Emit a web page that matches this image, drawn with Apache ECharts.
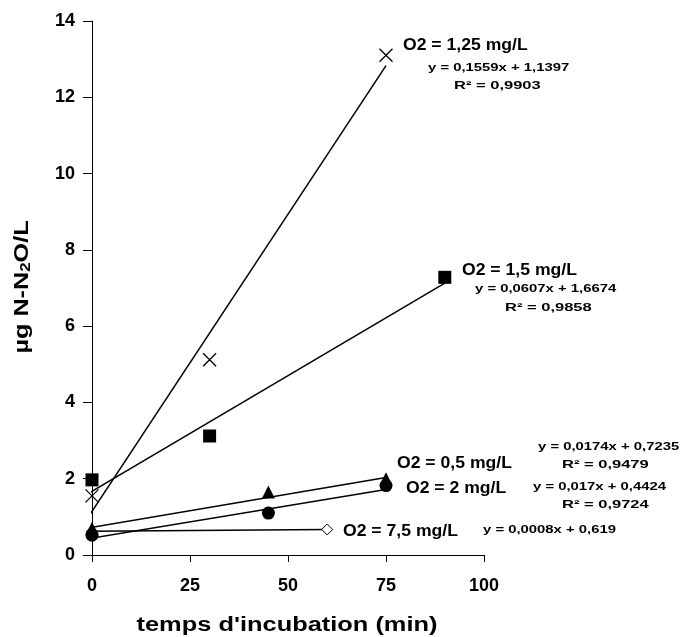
<!DOCTYPE html>
<html>
<head>
<meta charset="utf-8">
<script src="https://cdn.jsdelivr.net/npm/echarts@6/dist/echarts.min.js"></script>
<style>
  html, body { margin: 0; padding: 0; background: #fff; }
  #main { width: 681px; height: 637px; }
</style>
</head>
<body>
<div id="main"></div>
<script>
// mesures (temps en min, N-N2O en µg/L)
var pts125 = [[0, 1.55], [30, 5.12], [75, 13.1]];
var pts15 = [[0, 1.97], [30, 3.12], [90, 7.28]];
var pts05 = [[0, 0.7], [45, 1.65], [75, 2.0]];
var pts2 = [[0, 0.52], [45, 1.1], [75, 1.82]];
var pts75 = [[0, 0.62], [60, 0.67]];

// droites de tendance (extrémités)
var fit125 = [[-1.5, 0.91], [75, 12.83]];
var fit15 = [[-1.5, 1.58], [90, 7.13]];
var fit05 = [[-1.5, 0.70], [75, 2.03]];
var fit2 = [[-1.5, 0.42], [75, 1.72]];
var fit75 = [[-1.5, 0.62], [60, 0.67]];

var xTicks = [0, 25, 50, 75, 100];
var yTicks = [0, 2, 4, 6, 8, 10, 12, 14];

var font = 'Liberation Sans, Arial, Helvetica, sans-serif';
var crossPath = 'path://M0,0 L10,10 M10,0 L0,10';

function fitSeries(data) {
  return {
    type: 'line',
    data: data,
    showSymbol: false,
    symbol: 'none',
    clip: false,
    silent: true,
    z: 2,
    lineStyle: { color: '#000', width: 1.5 }
  };
}

function ptSeries(data, symbol, size, style) {
  style.opacity = 1;
  return {
    type: 'scatter',
    data: data,
    symbol: symbol,
    symbolSize: size,
    clip: false,
    z: 3,
    itemStyle: style
  };
}

// texte d'annotation (x = bord gauche, y = milieu)
function note(x, y, text, size, sx) {
  return {
    type: 'text', x: x, y: y, scaleX: sx, z: 10,
    style: { text: text, font: 'bold ' + size + 'px ' + font, fill: '#000', align: 'left', verticalAlign: 'middle' }
  };
}

var chart = echarts.init(document.getElementById('main'));

var option = {
  animation: false,
  backgroundColor: '#fff',
  grid: { left: 92, right: 197, top: 21, bottom: 82 },
  xAxis: {
    type: 'value',
    min: xTicks[0],
    max: xTicks[xTicks.length - 1],
    interval: 25,
    splitLine: { show: false },
    axisLine: { lineStyle: { color: '#000', width: 1 } },
    axisTick: { inside: false, length: 7, lineStyle: { color: '#000' } },
    axisLabel: { margin: 22, fontFamily: font, fontWeight: 'bold', fontSize: 18, color: '#000' }
  },
  yAxis: {
    type: 'value',
    min: yTicks[0],
    max: yTicks[yTicks.length - 1],
    interval: 2,
    splitLine: { show: false },
    axisLine: { show: true, lineStyle: { color: '#000', width: 1 } },
    axisTick: { show: true, inside: false, length: 9, lineStyle: { color: '#000' } },
    axisLabel: { margin: 17, fontFamily: font, fontWeight: 'bold', fontSize: 18, color: '#000' }
  },
  series: [
    fitSeries(fit125),
    fitSeries(fit15),
    fitSeries(fit05),
    fitSeries(fit2),
    fitSeries(fit75),
    ptSeries(pts75, 'diamond', 11, { color: '#fff', borderColor: '#000', borderWidth: 1 }),
    ptSeries(pts125, crossPath, 13, { color: 'none', borderColor: '#000', borderWidth: 1.3 }),
    ptSeries(pts15, 'rect', 13, { color: '#000' }),
    ptSeries(pts2, 'circle', 13, { color: '#000' }),
    ptSeries(pts05, 'triangle', 13, { color: '#000' })
  ],
  graphic: [
    // titres des axes
    {
      type: 'text', x: 287, y: 625, scaleX: 1.27,
      style: { text: "temps d'incubation (min)", font: 'bold 20px ' + font, fill: '#000', align: 'center', verticalAlign: 'middle' }
    },
    {
      type: 'text', x: 22, y: 287, rotation: Math.PI / 2, scaleX: 1.2,
      style: {
        text: '{a|µg N-N}{b|2}{a|O/L}', align: 'center', verticalAlign: 'middle',
        rich: {
          a: { font: 'bold 21px ' + font, fill: '#000' },
          b: { font: 'bold 14px ' + font, fill: '#000', padding: [9, 0, 0, 0] }
        }
      }
    },

    note(403, 46, 'O2 = 1,25 mg/L', 16, 1.1),
    note(428, 68, 'y = 0,1559x + 1,1397', 11, 1.35),
    note(454, 86, 'R² = 0,9903', 11, 1.5),

    note(462, 271, 'O2 = 1,5 mg/L', 16, 1.1),
    note(475, 289, 'y = 0,0607x + 1,6674', 11, 1.35),
    note(505, 308, 'R² = 0,9858', 11, 1.5),

    note(397, 464, 'O2 = 0,5 mg/L', 16, 1.1),
    note(538, 447, 'y = 0,0174x + 0,7235', 11, 1.35),
    note(562, 465, 'R² = 0,9479', 11, 1.5),

    note(406, 489, 'O2 = 2 mg/L', 16, 1.1),
    note(533, 487, 'y = 0,017x + 0,4424', 11, 1.35),
    note(562, 505, 'R² = 0,9724', 11, 1.5),

    note(343, 532, 'O2 = 7,5 mg/L', 16, 1.1),
    note(483, 530, 'y = 0,0008x + 0,619', 11, 1.35)
  ]
};

chart.setOption(option);
</script>
</body>
</html>
